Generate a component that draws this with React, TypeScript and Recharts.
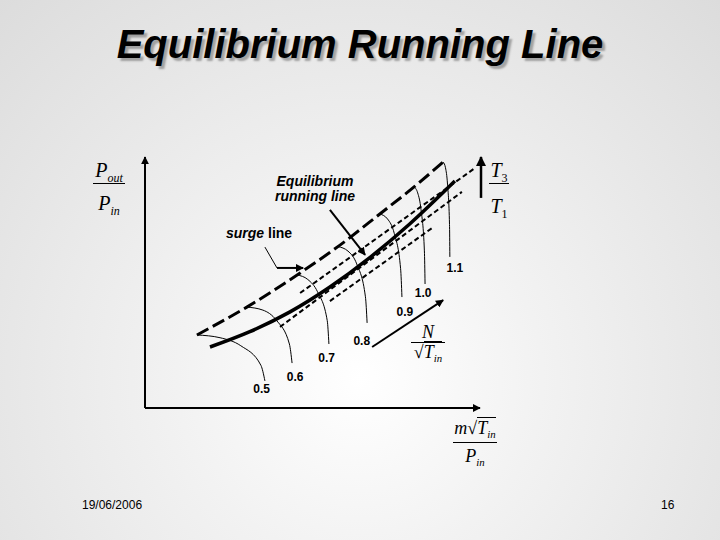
import React from 'react';
import { ComposedChart, Line, XAxis, YAxis, ReferenceLine, ReferenceDot, Label } from 'recharts';

// axes: corrected mass flow (x) and pressure ratio (y), arbitrary 0-10 units
const surgeX = [1.55, 3.04, 4.63, 5.82, 7.01, 8.06, 8.9];
const surgeY = [2.91, 4.02, 5.38, 6.49, 7.73, 8.84, 9.8];

const runX = [1.94, 3.13, 4.33, 5.52, 6.72, 7.91, 9.25];
const runY = [2.43, 3.04, 3.83, 4.82, 6.0, 7.34, 9.04];

// constant T3/T1 lines (start, end)
const tempX = [[4.63, 9.85], [4.03, 9.46], [5.52, 8.57]];
const tempY = [[4.58, 9.56], [3.23, 8.61], [4.26, 7.17]];

// constant N/sqrt(Tin) lines
const speeds = ['0.5', '0.6', '0.7', '0.8', '0.9', '1.0', '1.1'];
const speedX = [
  [1.55, 2.24, 2.86, 3.46, 3.58],
  [3.04, 3.52, 3.92, 4.31, 4.39],
  [4.54, 4.86, 5.15, 5.44, 5.49],
  [5.76, 6.06, 6.32, 6.58, 6.63],
  [7.01, 7.24, 7.44, 7.63, 7.67],
  [8.03, 8.14, 8.24, 8.34, 8.36],
  [8.9, 8.97, 9.03, 9.09, 9.1],
];
const speedY = [
  [2.91, 2.8, 2.48, 1.7, 1.08],
  [4.02, 3.9, 3.5, 2.55, 1.79],
  [5.3, 5.12, 4.63, 3.48, 2.55],
  [6.43, 6.25, 5.74, 4.43, 3.39],
  [7.73, 7.53, 6.96, 5.55, 4.42],
  [8.81, 8.57, 7.9, 6.26, 4.94],
  [9.8, 9.57, 8.92, 7.31, 6.02],
];
const speedLabelX = [3.48, 4.48, 5.42, 6.47, 7.76, 8.3, 9.25];
const speedLabelY = [0.78, 1.25, 1.99, 2.69, 3.84, 4.6, 5.57];

const pts = (xs: number[], ys: number[]) => xs.map((x, i) => ({ x, y: ys[i] }));

const sans = '"Liberation Sans", Arial, sans-serif';
const serif = '"Liberation Serif", "Times New Roman", serif';

const arrow = (w: number, head = true) => (p: any) => (
  <line
    x1={p.x1}
    y1={p.y1}
    x2={p.x2}
    y2={p.y2}
    stroke="#000"
    strokeWidth={w}
    markerEnd={head ? 'url(#ah)' : undefined}
  />
);

function Frac({ cx, numY, lineY, denY, w, size, num, den }: any) {
  const off = size * 0.8375;
  const base: React.CSSProperties = {
    position: 'absolute',
    left: cx - 60,
    width: 120,
    textAlign: 'center',
    fontFamily: serif,
    fontSize: size,
    lineHeight: `${size}px`,
    whiteSpace: 'nowrap',
    color: '#000',
  };
  return (
    <>
      <div style={{ ...base, top: numY - off }}>{num}</div>
      <div style={{ position: 'absolute', left: cx - w / 2, top: lineY, width: w, height: 1, background: '#000' }} />
      <div style={{ ...base, top: denY - off }}>{den}</div>
    </>
  );
}

const sub = (t: string, size: number, italic = true) => (
  <span style={{ fontSize: size * 0.6, position: 'relative', top: size * 0.25, fontStyle: italic ? 'italic' : 'normal' }}>{t}</span>
);

export default function App() {
  return (
    <div
      style={{
        position: 'absolute',
        left: 0,
        top: 0,
        width: 720,
        height: 540,
        overflow: 'hidden',
        background: 'radial-gradient(circle at 50% 70%, #ffffff 0%, #f2f2f2 35%, #dcdcdc 100%)',
      }}
    >
      <svg width={0} height={0} style={{ position: 'absolute' }}>
        <defs>
          <marker id="ah" viewBox="0 0 10 10" refX="9" refY="5" markerWidth="4" markerHeight="4" orient="auto" markerUnits="strokeWidth">
            <path d="M0,0 L10,5 L0,10 z" fill="#000" />
          </marker>
        </defs>
      </svg>

      <div
        style={{
          position: 'absolute',
          top: 24,
          left: 0,
          width: 720,
          textAlign: 'center',
          fontFamily: sans,
          fontWeight: 'bold',
          fontStyle: 'italic',
          fontSize: 40,
          lineHeight: '40px',
          textShadow: '3px 3px 2px rgba(0,0,0,0.3)',
        }}
      >
        Equilibrium Running Line
      </div>

      <div style={{ position: 'absolute', left: 0, top: 0 }}>
        <ComposedChart width={720} height={540} margin={{ top: 157, right: 240, bottom: 132, left: 145 }}>
          <XAxis type="number" dataKey="x" domain={[0, 10]} hide allowDataOverflow />
          <YAxis type="number" dataKey="y" domain={[0, 10]} hide allowDataOverflow />

          <ReferenceLine segment={[{ x: 0, y: 0 }, { x: 0, y: 10 }]} ifOverflow="visible" shape={arrow(2)} />
          <ReferenceLine segment={[{ x: 0, y: 0 }, { x: 10, y: 0 }]} ifOverflow="visible" shape={arrow(2)} />
          <ReferenceLine segment={[{ x: 10.03, y: 8.37 }, { x: 10.03, y: 10 }]} ifOverflow="visible" shape={arrow(2.5)} />

          {speedX.map((xs, i) => (
            <Line
              key={speeds[i]}
              data={pts(xs, speedY[i])}
              dataKey="y"
              type="monotone"
              stroke="#000"
              strokeWidth={1}
              dot={false}
              activeDot={false}
              isAnimationActive={false}
            />
          ))}

          {tempX.map((xs, i) => (
            <Line
              key={'t' + i}
              data={pts(xs, tempY[i])}
              dataKey="y"
              type="linear"
              stroke="#000"
              strokeWidth={2}
              strokeDasharray="5 3"
              dot={false}
              activeDot={false}
              isAnimationActive={false}
            />
          ))}

          <Line
            data={pts(surgeX, surgeY)}
            dataKey="y"
            type="monotone"
            stroke="#000"
            strokeWidth={3}
            strokeDasharray="13 5"
            dot={false}
            activeDot={false}
            isAnimationActive={false}
          />
          <Line
            data={pts(runX, runY)}
            dataKey="y"
            type="monotone"
            stroke="#000"
            strokeWidth={3.5}
            dot={false}
            activeDot={false}
            isAnimationActive={false}
          />

          <ReferenceLine segment={[{ x: 5.52, y: 7.89 }, { x: 6.57, y: 6.1 }]} ifOverflow="visible" shape={arrow(2)} />
          <ReferenceLine segment={[{ x: 3.58, y: 6.41 }, { x: 3.94, y: 5.58 }]} ifOverflow="visible" shape={arrow(1, false)} />
          <ReferenceLine segment={[{ x: 3.94, y: 5.58 }, { x: 4.72, y: 5.58 }]} ifOverflow="visible" shape={arrow(2)} />
          <ReferenceLine segment={[{ x: 6.78, y: 2.43 }, { x: 8.9, y: 4.3 }]} ifOverflow="visible" shape={arrow(2)} />

          {speeds.map((s, i) => (
            <ReferenceDot key={'l' + s} x={speedLabelX[i]} y={speedLabelY[i]} r={0} fill="none" stroke="none" ifOverflow="visible">
              <Label value={s} position="center" fontSize={12} fontWeight="bold" fill="#000" fontFamily={sans} />
            </ReferenceDot>
          ))}
        </ComposedChart>
      </div>

      <div style={{ position: 'absolute', left: 215, top: 174, width: 200, textAlign: 'center', fontFamily: sans, fontSize: 14, lineHeight: '14px', fontWeight: 'bold', fontStyle: 'italic' }}>
        Equilibrium
      </div>
      <div style={{ position: 'absolute', left: 215, top: 189, width: 200, textAlign: 'center', fontFamily: sans, fontSize: 14, lineHeight: '14px', fontWeight: 'bold', fontStyle: 'italic' }}>
        running line
      </div>
      <div style={{ position: 'absolute', left: 226, top: 226, fontFamily: sans, fontSize: 14, lineHeight: '14px', fontWeight: 'bold', whiteSpace: 'nowrap' }}>
        <i>surge</i> line
      </div>

      <Frac cx={109} numY={177} lineY={183} denY={210} w={32} size={20}
        num={<><i>P</i>{sub('out', 20)}</>}
        den={<><i>P</i>{sub('in', 20)}</>} />
      <Frac cx={499} numY={177} lineY={183} denY={213} w={20} size={20}
        num={<><i>T</i>{sub('3', 20, false)}</>}
        den={<><i>T</i>{sub('1', 20, false)}</>} />
      <Frac cx={428} numY={338} lineY={342} denY={358} w={34} size={18}
        num={<i>N</i>}
        den={<>√<span style={{ borderTop: '1px solid #000' }}><i>T</i>{sub('in', 18)}</span></>} />
      <Frac cx={475} numY={434} lineY={442} denY={462} w={44} size={18}
        num={<><i>m</i>√<span style={{ borderTop: '1px solid #000' }}><i>T</i>{sub('in', 18)}</span></>}
        den={<><i>P</i>{sub('in', 18)}</>} />

      <div style={{ position: 'absolute', left: 82, top: 499, fontFamily: sans, fontSize: 12, lineHeight: '12px' }}>19/06/2006</div>
      <div style={{ position: 'absolute', left: 661, top: 499, fontFamily: sans, fontSize: 12, lineHeight: '12px' }}>16</div>
    </div>
  );
}
